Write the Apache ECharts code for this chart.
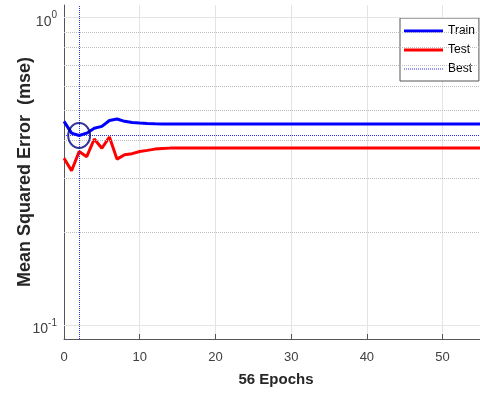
<!DOCTYPE html>
<html><head><meta charset="utf-8">
<script src="https://cdn.jsdelivr.net/npm/echarts@6/dist/echarts.min.js"></script>
<style>html,body{margin:0;padding:0;background:#fff}#c{width:480px;height:394px}</style>
</head><body><div id="c"></div>
<script>
const epochs = [0,1,2,3,4,5,6,7,8,9,10,11,12,13,14,15,16,17,18,19,20,21,22,23,24,25,26,27,28,29,30,31,32,33,34,35,36,37,38,39,40,41,42,43,44,45,46,47,48,49,50,51,52,53,54,55,56];
const trainMse = [0.460,0.421,0.4136,0.421,0.437,0.443,0.463,0.468,0.460,0.456,
  0.454,0.4525,0.4515,0.451,0.4507,0.4505,0.4505,0.4505,0.4505,0.4505,
  0.4505,0.4505,0.4505,0.4505,0.4505,0.4505,0.4505,0.4505,0.4505,0.4505,
  0.4505,0.4505,0.4505,0.4505,0.4505,0.4505,0.4505,0.4505,0.4505,0.4505,
  0.4505,0.4505,0.4505,0.4505,0.4505,0.4505,0.4505,0.4505,0.4505,0.4505,
  0.4505,0.4505,0.4505,0.4505,0.4505,0.4505,0.4505];
const testMse = [0.349,0.3175,0.367,0.353,0.403,0.376,0.409,0.3465,0.358,0.361,
  0.367,0.370,0.3735,0.375,0.3763,0.3763,0.3763,0.3763,0.3763,0.3763,
  0.3763,0.3763,0.3763,0.3763,0.3763,0.3763,0.3763,0.3763,0.3763,0.3763,
  0.3763,0.3763,0.3763,0.3763,0.3763,0.3763,0.3763,0.3763,0.3763,0.3763,
  0.3763,0.3763,0.3763,0.3763,0.3763,0.3763,0.3763,0.3763,0.3763,0.3763,
  0.3763,0.3763,0.3763,0.3763,0.3763,0.3763,0.3763];
const bestEpoch = 2;
const bestValue = 0.4136;
const xTicks = [0,10,20,30,40,50];
const yTicks = [0.1,1];
const yMinorGrid = [0.2,0.3,0.4,0.5,0.6,0.7,0.8,0.9];
const xMax = 56;

const font = '"Liberation Sans", Arial, sans-serif';
const bestColor = '#3030f0';
// legend icon shapes (style only)
const thickIcon = 'path://M0,0H39V3H0Z';
let dotted = '';
for (let i = 0; i < 39; i += 2) dotted += 'M' + i + ',0h1v1h-1z';
const dottedIcon = 'path://' + dotted;

const chart = echarts.init(document.getElementById('c'));
const pair = (a) => epochs.map((e,i) => [e, a[i]]);
chart.setOption({
  animation: false,
  backgroundColor: '#fff',
  textStyle: {fontFamily: font},
  grid: {left: 64, top: 5, right: -8, bottom: 55, containLabel: false, outerBoundsMode: 'none'},
  legend: {
    data: [
      {name: 'Train', icon: thickIcon},
      {name: 'Test', icon: thickIcon},
      {name: 'Best', icon: dottedIcon}
    ],
    orient: 'vertical', left: 400, top: 18,
    backgroundColor: '#fff', borderColor: '#555', borderWidth: 1,
    padding: [7,4,6,4], itemWidth: 39, itemHeight: 13, itemGap: 7, itemTextGap: 4,
    symbolKeepAspect: true,
    itemStyle: {borderWidth: 0, borderColor: 'transparent'},
    textStyle: {fontSize: 12, color: '#000', fontFamily: font}
  },
  xAxis: {
    type: 'value', min: 0, max: xMax, interval: 10,
    name: '56 Epochs', nameLocation: 'middle', nameGap: 33, nameMoveOverlap: false,
    nameTextStyle: {fontSize: 15, fontWeight: 'bold', color: '#262626', fontFamily: font},
    axisLine: {lineStyle: {color: '#555', width: 1}},
    axisTick: {inside: true, length: 5, customValues: xTicks, lineStyle: {color: '#555'}},
    axisLabel: {customValues: xTicks, margin: 12, fontSize: 13, color: '#404040', fontFamily: font},
    splitLine: {show: true, lineStyle: {color: '#e4e4e4', width: 1}}
  },
  yAxis: {
    type: 'log', logBase: 10, min: 0.09, max: 1.1,
    name: 'Mean Squared Error  (mse)', nameLocation: 'middle', nameGap: 30, nameMoveOverlap: false,
    nameTextStyle: {fontSize: 18, fontWeight: 'bold', color: '#262626', fontFamily: font},
    axisLine: {show: true, lineStyle: {color: '#555', width: 1}},
    axisTick: {show: true, inside: true, length: 5, customValues: yTicks, lineStyle: {color: '#555'}},
    axisLabel: {
      customValues: yTicks, margin: 7,
      formatter: (v) => v > 0.5 ? '{b|10}{s|0}' : '{b|10}{s|-1}',
      rich: {
        b: {fontSize: 14, color: '#404040', fontFamily: font, padding: [8,0,0,0]},
        s: {fontSize: 10, color: '#404040', fontFamily: font, padding: [0,0,4,0]}
      }
    },
    splitLine: {show: false}
  },
  series: [
    {
      name: 'gridlines', type: 'line', data: [], symbol: 'none', silent: true, z: 1,
      markLine: {
        silent: true, symbol: 'none', label: {show: false}, animation: false,
        data: yMinorGrid.map(v => ({yAxis: v, lineStyle: {color: '#bdbdbd', width: 1, type: 'dotted'}}))
          .concat(yTicks.map(v => ({yAxis: v, lineStyle: {color: '#e4e4e4', width: 1, type: 'solid'}})))
      }
    },
    {
      name: 'Best', type: 'line', data: [[0, bestValue],[xMax, bestValue]],
      symbol: 'none', z: 3,
      lineStyle: {color: bestColor, width: 1, type: 'dotted'},
      itemStyle: {color: bestColor},
      markLine: {
        silent: true, symbol: 'none', label: {show: false}, animation: false,
        lineStyle: {color: bestColor, width: 1, type: 'dotted'},
        data: [{xAxis: bestEpoch, lineStyle: {color: bestColor, width: 1, type: 'dotted'}}]
      }
    },
    {
      name: 'Test', type: 'line', data: pair(testMse), symbol: 'none', z: 4,
      lineStyle: {color: '#ff0000', width: 3}, itemStyle: {color: '#ff0000'}
    },
    {
      name: 'Train', type: 'line', data: pair(trainMse), symbol: 'none', z: 5,
      lineStyle: {color: '#0000ff', width: 3}, itemStyle: {color: '#0000ff'}
    },
    {
      name: 'bestCircle', type: 'scatter', data: [[bestEpoch, bestValue]], z: 6,
      symbol: 'circle', symbolSize: [22, 25], silent: true,
      itemStyle: {color: 'rgba(0,0,0,0)', borderColor: '#000080', borderWidth: 2}
    }
  ]
});
</script></body></html>
